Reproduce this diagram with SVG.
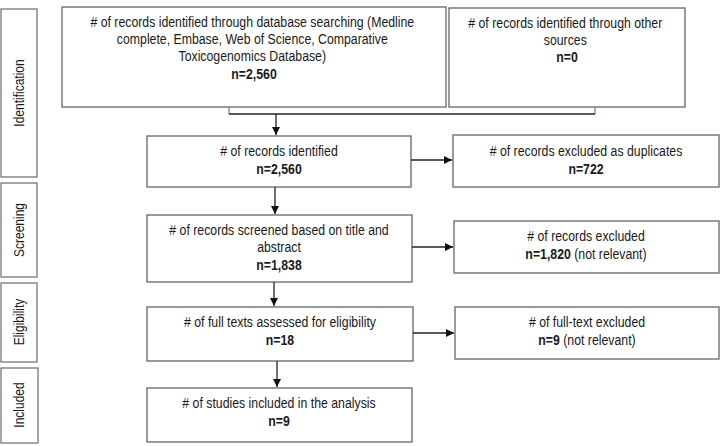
<svg xmlns="http://www.w3.org/2000/svg" width="724" height="446" viewBox="0 0 724 446">
<defs>
<marker id="ah" viewBox="0 0 10 10" refX="10" refY="5" markerWidth="8" markerHeight="8" markerUnits="userSpaceOnUse" orient="auto"><path d="M0,0 L10,5 L0,10 z" fill="#111"/></marker>
</defs>
<style>
.box{fill:#fff;stroke:#666;stroke-width:1.3}
.side{fill:#fff;stroke:#777;stroke-width:1.3}
text{font-family:"Liberation Sans",Arial,sans-serif;font-size:15px;fill:#1a1a1a;text-anchor:middle}
.b{font-weight:bold}
.conn{stroke:#222;stroke-width:1.3;fill:none}
.tick{stroke:#5b8fd0;stroke-width:1.3;fill:none}
</style>
<g id="side-identification"><rect class="side" x="1" y="9" width="36" height="168"/><text transform="translate(24,93) rotate(-90) scale(0.8,1)">Identification</text></g>
<g id="side-screening"><rect class="side" x="1" y="183" width="36" height="94"/><text transform="translate(24,230) rotate(-90) scale(0.8,1)">Screening</text></g>
<g id="side-eligibility"><rect class="side" x="1" y="283" width="36" height="79"/><text transform="translate(24,322) rotate(-90) scale(0.8,1)">Eligibility</text></g>
<g id="side-included"><rect class="side" x="1" y="368" width="37" height="75"/><text transform="translate(24,405) rotate(-90) scale(0.8,1)">Included</text></g>

<g id="db-search"><rect class="box" x="62" y="7" width="384" height="100"/>
<text transform="translate(254,0) scale(0.82,1)">
<tspan x="0" y="27"># of records identified through database searching (Medline</tspan>
<tspan x="0" y="44">complete, Embase, Web of Science, Comparative</tspan>
<tspan x="0" y="61">Toxicogenomics Database)</tspan>
<tspan x="0" y="79" class="b">n=2,560</tspan></text></g>

<g id="other-sources"><rect class="box" x="449" y="8" width="236" height="99"/>
<text transform="translate(567,0) scale(0.82,1)"><tspan x="0" y="28"># of records identified through other</tspan>
<tspan x="0" y="45">sources</tspan>
<tspan x="0" y="62" class="b">n=0</tspan></text></g>

<g id="identified"><rect class="box" x="147" y="136" width="264" height="51"/>
<text transform="translate(279,0) scale(0.82,1)"><tspan x="0" y="156"># of records identified</tspan><tspan x="0" y="174" class="b">n=2,560</tspan></text></g>

<g id="duplicates"><rect class="box" x="453" y="135" width="266" height="52"/>
<text transform="translate(586,0) scale(0.82,1)"><tspan x="0" y="156"># of records excluded as duplicates</tspan><tspan x="0" y="174" class="b">n=722</tspan></text></g>

<g id="screened"><rect class="box" x="147" y="215" width="265" height="67"/>
<text transform="translate(279,0) scale(0.82,1)"><tspan x="0" y="235"># of records screened based on title and</tspan><tspan x="0" y="252">abstract</tspan><tspan x="0" y="270" class="b">n=1,838</tspan></text></g>

<g id="excluded"><rect class="box" x="454" y="221" width="265" height="52"/>
<text transform="translate(586,0) scale(0.82,1)"><tspan x="0" y="241"># of records excluded</tspan><tspan x="0" y="259"><tspan class="b">n=1,820</tspan> (not relevant)</tspan></text></g>

<g id="fulltext"><rect class="box" x="147" y="307" width="266" height="54"/>
<text transform="translate(280,0) scale(0.82,1)"><tspan x="0" y="327"># of full texts assessed for eligibility</tspan><tspan x="0" y="345" class="b">n=18</tspan></text></g>

<g id="fulltext-excluded"><rect class="box" x="455" y="307" width="264" height="52"/>
<text transform="translate(587,0) scale(0.82,1)"><tspan x="0" y="327"># of full-text excluded</tspan><tspan x="0" y="345"><tspan class="b">n=9</tspan> (not relevant)</tspan></text></g>

<g id="included"><rect class="box" x="147" y="388" width="265" height="54"/>
<text transform="translate(279,0) scale(0.82,1)"><tspan x="0" y="408"># of studies included in the analysis</tspan><tspan x="0" y="426" class="b">n=9</tspan></text></g>

<g id="connectors">
<path class="tick" d="M229,107 V114 M595,107 V114"/>
<path class="conn" d="M229,114 H595"/>
<path class="conn" d="M276,114 V135" marker-end="url(#ah)"/>
<path class="conn" d="M411,160 H452" marker-end="url(#ah)"/>
<path class="conn" d="M275,187 V214" marker-end="url(#ah)"/>
<path class="conn" d="M412,247 H453" marker-end="url(#ah)"/>
<path class="conn" d="M274,282 V306" marker-end="url(#ah)"/>
<path class="conn" d="M413,333 H454" marker-end="url(#ah)"/>
<path class="conn" d="M277,361 V387" marker-end="url(#ah)"/>
</g>
</svg>
